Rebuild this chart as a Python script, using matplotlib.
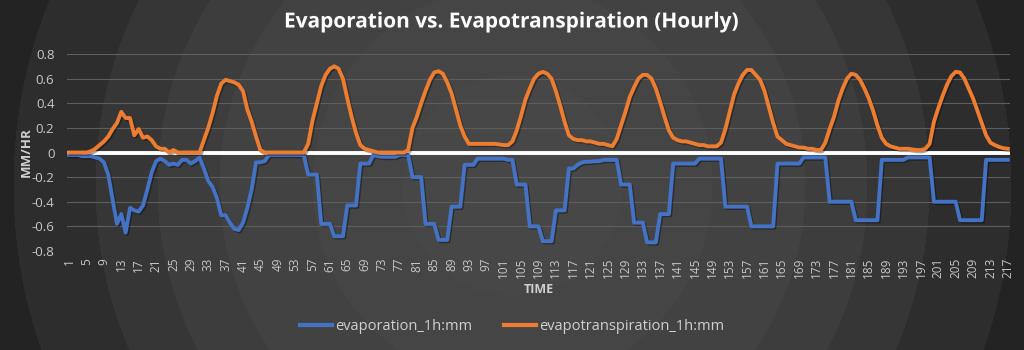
import numpy as np
import matplotlib
matplotlib.use("Agg")
import matplotlib.pyplot as plt
import matplotlib.patheffects as pe

# ---------------- data ----------------
evaporation = [
    -0.02, -0.02, -0.02, -0.03, -0.03, -0.03, -0.04, -0.05, -0.08, -0.18,
    -0.38, -0.58, -0.5, -0.65, -0.45, -0.47, -0.48, -0.43, -0.3, -0.16,
    -0.07, -0.05, -0.07, -0.1, -0.09, -0.1, -0.06, -0.06, -0.09, -0.07,
    -0.04, -0.13, -0.23, -0.28, -0.37, -0.51, -0.51, -0.57, -0.62, -0.63,
    -0.57, -0.45, -0.3, -0.08, -0.08, -0.07, -0.02, -0.02, -0.02, -0.02,
    -0.02, -0.02, -0.02, -0.02, -0.02, -0.18, -0.18, -0.18, -0.58, -0.58,
    -0.58, -0.68, -0.68, -0.68, -0.43, -0.43, -0.43, -0.09, -0.09, -0.09,
    -0.02, -0.03, -0.035, -0.035, -0.035, -0.035, -0.02, -0.02, -0.02, -0.2,
    -0.2, -0.2, -0.58, -0.58, -0.58, -0.71, -0.71, -0.71, -0.44, -0.44,
    -0.44, -0.1, -0.1, -0.1, -0.05, -0.05, -0.05, -0.05, -0.05, -0.05,
    -0.05, -0.06, -0.06, -0.26, -0.26, -0.26, -0.6, -0.6, -0.6, -0.72,
    -0.72, -0.72, -0.47, -0.47, -0.47, -0.13, -0.13, -0.1, -0.08, -0.075,
    -0.075, -0.07, -0.07, -0.06, -0.06, -0.06, -0.06, -0.26, -0.26, -0.26,
    -0.57, -0.57, -0.57, -0.73, -0.73, -0.73, -0.5, -0.5, -0.5, -0.09,
    -0.09, -0.09, -0.09, -0.09, -0.09, -0.05, -0.05, -0.05, -0.05, -0.05,
    -0.05, -0.44, -0.44, -0.44, -0.44, -0.44, -0.44, -0.6, -0.6, -0.6,
    -0.6, -0.6, -0.6, -0.09, -0.09, -0.09, -0.09, -0.09, -0.09, -0.04,
    -0.04, -0.04, -0.04, -0.04, -0.04, -0.4, -0.4, -0.4, -0.4, -0.4,
    -0.4, -0.55, -0.55, -0.55, -0.55, -0.55, -0.55, -0.06, -0.06, -0.06,
    -0.06, -0.06, -0.06, -0.04, -0.04, -0.04, -0.04, -0.04, -0.04, -0.4,
    -0.4, -0.4, -0.4, -0.4, -0.4, -0.55, -0.55, -0.55, -0.55, -0.55,
    -0.55, -0.06, -0.06, -0.06, -0.06, -0.06, -0.06,
]

evapotranspiration = [
    0.0, 0.0, 0.0, 0.0, 0.0, 0.01, 0.03, 0.06, 0.09, 0.13,
    0.19, 0.24, 0.33, 0.28, 0.28, 0.14, 0.19, 0.12, 0.13, 0.10,
    0.05, 0.03, 0.03, 0.0, 0.02, 0.0, 0.0, 0.0, 0.0, 0.0,
    0.0, 0.1, 0.2, 0.32, 0.46, 0.56, 0.59, 0.58, 0.57, 0.55,
    0.5, 0.35, 0.25, 0.13, 0.02, 0.0, 0.0, 0.0, 0.0, 0.0,
    0.0, 0.0, 0.0, 0.0, 0.0, 0.07, 0.26, 0.4, 0.54, 0.63,
    0.68, 0.70, 0.68, 0.6, 0.44, 0.29, 0.16, 0.06, 0.03, 0.02,
    0.01, 0.0, 0.0, 0.0, 0.0, 0.0, 0.0, 0.0, 0.02, 0.2,
    0.29, 0.4, 0.5, 0.59, 0.65, 0.66, 0.64, 0.57, 0.48, 0.35,
    0.22, 0.13, 0.07, 0.07, 0.07, 0.07, 0.07, 0.07, 0.07, 0.065,
    0.06, 0.06, 0.09, 0.18, 0.3, 0.43, 0.52, 0.6, 0.64, 0.655,
    0.64, 0.6, 0.5, 0.38, 0.25, 0.14, 0.11, 0.1, 0.1, 0.09,
    0.09, 0.08, 0.07, 0.07, 0.06, 0.05, 0.11, 0.22, 0.33, 0.45,
    0.53, 0.6, 0.63, 0.63, 0.6, 0.52, 0.41, 0.29, 0.18, 0.12,
    0.1, 0.09, 0.09, 0.08, 0.07, 0.06, 0.06, 0.05, 0.05, 0.05,
    0.08, 0.19, 0.33, 0.47, 0.56, 0.63, 0.67, 0.67, 0.63, 0.59,
    0.5, 0.37, 0.24, 0.13, 0.1, 0.07, 0.06, 0.05, 0.04, 0.04,
    0.03, 0.03, 0.02, 0.02, 0.08, 0.19, 0.29, 0.42, 0.52, 0.6,
    0.64, 0.63, 0.59, 0.52, 0.44, 0.34, 0.22, 0.12, 0.07, 0.05,
    0.04, 0.03, 0.03, 0.03, 0.025, 0.02, 0.02, 0.03, 0.07, 0.25,
    0.36, 0.46, 0.55, 0.62, 0.655, 0.65, 0.6, 0.52, 0.44, 0.34,
    0.24, 0.14, 0.08, 0.06, 0.045, 0.035, 0.03,
]

time_index = list(range(1, len(evaporation) + 1))
tick_labels = [str(t) for t in time_index[::4]]
y_ticks = [-0.8, -0.6, -0.4, -0.2, 0, 0.2, 0.4, 0.6, 0.8]
y_tick_labels = ["-0.8", "-0.6", "-0.4", "-0.2", "0", "0.2", "0.4", "0.6", "0.8"]

title = "Evaporation vs. Evapotranspiration (Hourly)"
series_names = ["evaporation_1h:mm", "evapotranspiration_1h:mm"]

# ---------------- figure ----------------
W, H = 1024, 350
fig = plt.figure(figsize=(W / 100, H / 100), dpi=100)

# radial banded dark background
bg = fig.add_axes([0, 0, 1, 1])
bg.set_axis_off()
yy, xx = np.mgrid[0:H, 0:W]
r = np.hypot(xx - 512, yy - 185)
radii = [110, 200, 293, 355, 417, 499]
shades = [0x47, 0x45, 0x42, 0x3d, 0x36, 0x2d, 0x23]
img = np.full(r.shape, shades[-1], dtype=float)
for rad, sh in zip(radii[::-1], shades[-2::-1]):
    img[r < rad] = sh
img = img / 255.0
bg.imshow(np.dstack([img, img, img]), extent=[0, W, H, 0], aspect="auto",
          interpolation="bilinear")
bg.set_xlim(0, W)
bg.set_ylim(H, 0)

ax = fig.add_axes([67 / W, 1 - 251 / H, (1010 - 67) / W, (251 - 54) / H])
ax.patch.set_alpha(0)

blue = "#4472c4"
orange = "#ed7d31"
shadow = [pe.SimpleLineShadow(offset=(1.0, -1.0), shadow_color="black", alpha=0.35),
          pe.Normal()]

ax.axhline(0, color="white", lw=2.8, zorder=1.5)
l1, = ax.plot(time_index, evaporation, color=blue, lw=2.8, zorder=3,
              solid_joinstyle="round", label=series_names[0], path_effects=shadow)
l2, = ax.plot(time_index, evapotranspiration, color=orange, lw=2.8, zorder=3,
              solid_joinstyle="round", label=series_names[1], path_effects=shadow)

ax.set_xlim(0.5, len(time_index) + 0.5)
ax.set_ylim(-0.8, 0.8)
ax.set_yticks(y_ticks)
ax.set_yticklabels(y_tick_labels)
ax.set_xticks(time_index[::4])
ax.set_xticklabels(tick_labels, rotation=90)
ax.grid(axis="y", color="#5e5e5e", lw=0.8)
ax.set_axisbelow(True)
for s in ax.spines.values():
    s.set_visible(False)
ax.tick_params(axis="both", length=0, colors="#c8c8c8")
ax.tick_params(axis="y", labelsize=9.5, pad=9)
ax.tick_params(axis="x", labelsize=8.5, pad=5)
for t in ax.get_yticklabels() + ax.get_xticklabels():
    t.set_fontfamily("Open Sans")

ax.set_ylabel("MM/HR", color="#d0d0d0", fontsize=9.5, fontweight="bold",
              fontfamily="Open Sans")
ax.yaxis.set_label_coords((33 - 67) / (1010 - 67), 0.5)
ax.set_xlabel("TIME", color="#d0d0d0", fontsize=9, fontweight="bold",
              fontfamily="Open Sans", labelpad=3)

fig.text(0.5, 1 - 22 / H, title, ha="center", va="center", color="white",
         fontsize=15, fontweight="bold", fontfamily="Open Sans",
         path_effects=[pe.withSimplePatchShadow(offset=(1, -1), alpha=0.4)])

leg = fig.legend(handles=[l1, l2], loc="center", bbox_to_anchor=(0.5, 1 - 327 / H),
                 ncol=2, frameon=False, handlelength=2.2,
                 handletextpad=0.2, columnspacing=2.2,
                 prop={"family": "Open Sans", "size": 10.5})
for txt in leg.get_texts():
    txt.set_color("#d0d0d0")
for line in leg.get_lines():
    line.set_linewidth(3)
    line.set_path_effects([])

fig.savefig("out.png", dpi=100)
